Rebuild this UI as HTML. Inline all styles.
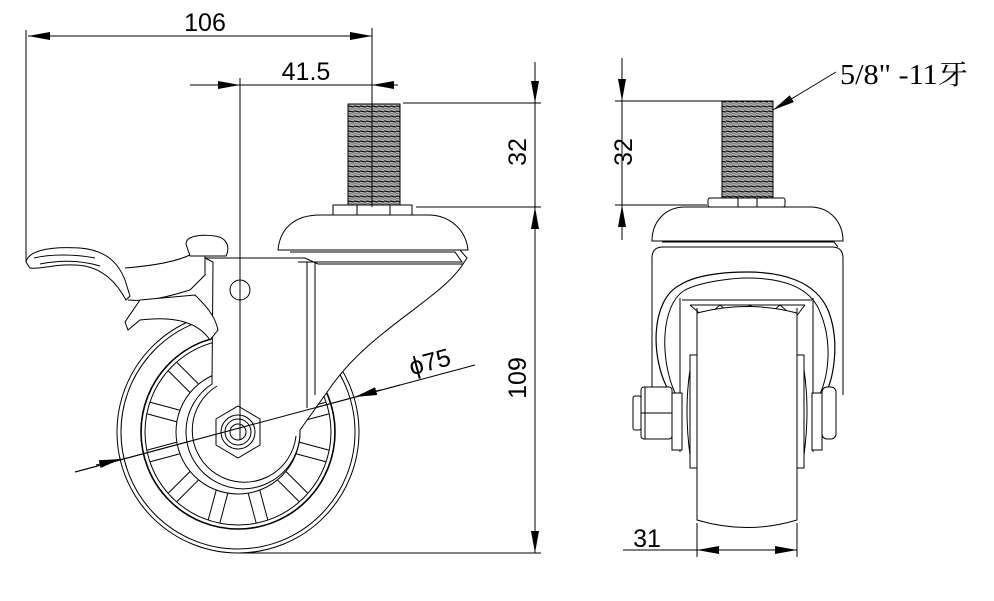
<!DOCTYPE html>
<html><head><meta charset="utf-8"><style>
html,body{margin:0;padding:0;background:#fff;width:994px;height:601px;overflow:hidden}
svg{display:block}
text{font-family:"Liberation Sans",sans-serif;fill:#000}
</style></head><body>
<svg width="994" height="601" viewBox="0 0 994 601" xmlns="http://www.w3.org/2000/svg">
<defs>
<marker id="a" markerWidth="22" markerHeight="8" refX="22" refY="4" orient="auto-start-reverse" markerUnits="userSpaceOnUse"><path d="M0,0 L22,4 L0,8z" fill="#000"/></marker>
<pattern id="th" width="6" height="5" patternUnits="userSpaceOnUse"><rect width="6" height="5" fill="#b0b0b0"/><path d="M0,1 L6,2" stroke="#111" stroke-width="1.3"/><path d="M0,3.5 L6,4.3" stroke="#666" stroke-width="0.7"/></pattern>
</defs>
<g fill="none" stroke="#000" stroke-width="1">
<line x1="26" y1="30" x2="26" y2="262"/>
<line x1="372" y1="28" x2="372" y2="103"/>
<line x1="28" y1="36" x2="372" y2="36" marker-start="url(#a)" marker-end="url(#a)"/>
<line x1="190" y1="85" x2="398" y2="85"/>
<line x1="212" y1="85" x2="240" y2="85" marker-end="url(#a)"/>
<line x1="398" y1="85" x2="372" y2="85" marker-end="url(#a)"/>
<line x1="240" y1="78" x2="240" y2="430"/>
<line x1="372" y1="207" x2="372" y2="245" stroke-dasharray="12,6"/>
<line x1="403" y1="103" x2="541" y2="103"/>
<line x1="416" y1="207" x2="541" y2="207"/>
<line x1="535" y1="62" x2="535" y2="103" marker-end="url(#a)"/>
<line x1="535" y1="103" x2="535" y2="207"/>
<line x1="535" y1="207" x2="535" y2="553" marker-start="url(#a)" marker-end="url(#a)"/>
<line x1="240" y1="553" x2="541" y2="553"/>
<line x1="75" y1="472" x2="475" y2="365"/>
<line x1="96" y1="465" x2="121" y2="459" marker-end="url(#a)"/>
<line x1="380" y1="390" x2="355" y2="397" marker-end="url(#a)"/>

<circle cx="238" cy="432" r="121"/>
<circle cx="238" cy="432" r="117"/>
<circle cx="238" cy="432" r="97" stroke-width="1.6"/>
<circle cx="238" cy="432" r="93"/>
<circle cx="238" cy="432" r="62"/>
<g>
<g transform="rotate(15 238 432)"><path d="M300,426 L331,426 M300,438 L331,438"/></g>
<g transform="rotate(45 238 432)"><path d="M300,426 L331,426 M300,438 L331,438"/></g>
<g transform="rotate(75 238 432)"><path d="M300,426 L331,426 M300,438 L331,438"/></g>
<g transform="rotate(105 238 432)"><path d="M300,426 L331,426 M300,438 L331,438"/></g>
<g transform="rotate(135 238 432)"><path d="M300,426 L331,426 M300,438 L331,438"/></g>
<g transform="rotate(165 238 432)"><path d="M300,426 L331,426 M300,438 L331,438"/></g>
<g transform="rotate(195 238 432)"><path d="M300,426 L331,426 M300,438 L331,438"/></g>
<g transform="rotate(225 238 432)"><path d="M300,426 L331,426 M300,438 L331,438"/></g>
<g transform="rotate(-15 238 432)"><path d="M300,426 L331,426 M300,438 L331,438"/></g>
</g>
<path d="M205,258 L305,258 L318,264 L463,264 C440,300 370,330 330,388 L300,430 A57,57 0 1 1 212,384 L213,262 Z" fill="#fff"/>
<path d="M296,436 A52,52 0 1 1 217,386"/>
<line x1="307" y1="262" x2="307" y2="408"/>
<line x1="315" y1="262" x2="315" y2="395"/>
<path d="M463,264 L467,258 L460,250"/>
<circle cx="240" cy="290" r="10"/>
<line x1="240" y1="85" x2="240" y2="430"/>
<polygon points="238,406 260,419 260,445 238,458 216,445 216,419" fill="#fff"/>
<circle cx="238" cy="432" r="17"/>
<circle cx="238" cy="432" r="13"/>
<circle cx="238" cy="432" r="8"/>
<line x1="240" y1="406" x2="240" y2="440"/>
<line x1="75" y1="472" x2="400" y2="385"/>
<path d="M278,250 C280,228 295,215 320,215 L428,215 C450,215 466,230 468,250 Z" fill="#fff"/>
<path d="M290,252 L455,252 L462,262 L298,262"/>
<rect x="333" y="205" width="79" height="10" fill="#fff"/>
<line x1="357" y1="205" x2="357" y2="215"/><line x1="390" y1="205" x2="390" y2="215"/>
<rect x="348" y="104" width="52" height="101" fill="url(#th)"/>
<path d="M348,104 L400,104 M348,104 L348,205 M400,104 L400,205"/>
<line x1="372" y1="103" x2="372" y2="207"/>
<path d="M26,262 C28,252 45,246 80,248 C105,250 118,262 125,280 L130,296 L126,300 C118,285 105,270 85,266 C60,262 40,270 30,268 Z" fill="#fff"/>
<path d="M34,258 C50,254 75,254 95,258 M40,264 C60,260 80,260 100,266"/>
<path d="M125,268 C150,266 175,262 190,255 L205,255 L205,275 L190,290 C170,296 150,302 128,300"/>
<path d="M186,244 C186,236 200,234 215,236 C228,238 230,248 226,256 L190,256 Z" fill="#fff"/>
<path d="M140,300 L195,295 C205,305 215,315 218,330 L210,340 C200,325 180,315 140,320 L128,330 L125,322 Z" fill="#fff"/>
</g>
<text x="205" y="31" font-size="25" text-anchor="middle">106</text>
<text x="306" y="80" font-size="25" text-anchor="middle">41.5</text>
<text transform="translate(526,152) rotate(-90)" font-size="25" text-anchor="middle">32</text>
<text transform="translate(526,378) rotate(-90)" font-size="25" text-anchor="middle">109</text>
<text transform="translate(432,370) rotate(-15)" font-size="25" text-anchor="middle">ϕ75</text>

<g fill="none" stroke="#000" stroke-width="1">
<line x1="615" y1="101" x2="723" y2="101"/>
<line x1="615" y1="205" x2="707" y2="205"/>
<line x1="622" y1="58" x2="622" y2="101" marker-end="url(#a)"/>
<line x1="622" y1="101" x2="622" y2="205"/>
<line x1="622" y1="240" x2="622" y2="205" marker-end="url(#a)"/>
<line x1="836" y1="72" x2="773" y2="110" marker-end="url(#a)"/>
<rect x="722" y="101" width="51" height="97" fill="url(#th)"/>
<path d="M722,101 L773,101 M722,101 L722,198 M773,101 L773,198"/>
<rect x="708" y="198" width="77" height="9" rx="2" fill="#fff"/>
<line x1="738" y1="198" x2="738" y2="207"/><line x1="757" y1="198" x2="757" y2="207"/>
<path d="M652,241 C652,222 665,207 685,207 L810,207 C830,207 843,222 843,241 Z" fill="#fff"/>
<path d="M662,242 L834,242 L838,247"/>
<path d="M652,395 L652,258 Q652,247 663,247 L832,247 Q843,247 843,258 L843,395"/>
<path d="M670,393 C650,360 650,300 680,285 C700,272 740,272 747,272 C780,272 815,280 828,310 C840,340 835,380 822,400" stroke-width="1.2"/>
<path d="M675,393 C660,360 660,305 685,290 C705,280 740,278 747,278 C780,278 810,286 820,312 C832,340 830,375 818,398"/>
<path d="M682,300 L812,300 M690,305 L805,305"/>
<path d="M690,305 L705,318 L720,305 L735,318 L750,305 L765,318 L780,305 L795,318 L805,305"/>
<line x1="680" y1="298" x2="680" y2="452"/>
<line x1="813" y1="298" x2="813" y2="452"/>
<line x1="697" y1="308" x2="697" y2="452"/>
<line x1="797" y1="308" x2="797" y2="452"/>
<path d="M697,313 Q747,300 797,313 L797,520 Q747,535 697,520 Z" fill="#fff"/>
<rect x="690" y="355" width="7" height="113"/>
<rect x="797" y="355" width="7" height="113"/>
<path d="M690,370 Q684,410 690,455"/>
<path d="M804,370 Q810,410 804,455"/>
<rect x="672" y="393" width="10" height="57" fill="#fff"/>
<rect x="812" y="393" width="10" height="57" fill="#fff"/>
<rect x="641" y="387" width="31" height="52" rx="3" fill="#fff"/>
<rect x="633" y="396" width="8" height="34" rx="2" fill="#fff"/>
<line x1="641" y1="413" x2="672" y2="413"/>
<line x1="645" y1="387" x2="645" y2="439"/>
<rect x="822" y="387" width="14" height="52" rx="5" fill="#fff"/>
<line x1="697" y1="523" x2="697" y2="557"/>
<line x1="797" y1="523" x2="797" y2="557"/>
<line x1="623" y1="550" x2="697" y2="550"/>
<line x1="697" y1="550" x2="797" y2="550" marker-start="url(#a)" marker-end="url(#a)"/>
</g>
<text transform="translate(632,152) rotate(-90)" font-size="25" text-anchor="middle">32</text>
<text x="647" y="547" font-size="25" text-anchor="middle">31</text>
<text x="840" y="84" font-size="28" textLength="128" lengthAdjust="spacingAndGlyphs" style='font-family:"Liberation Serif","Noto Serif CJK SC",serif'>5/8" -11牙</text>
</svg>
</body></html>
